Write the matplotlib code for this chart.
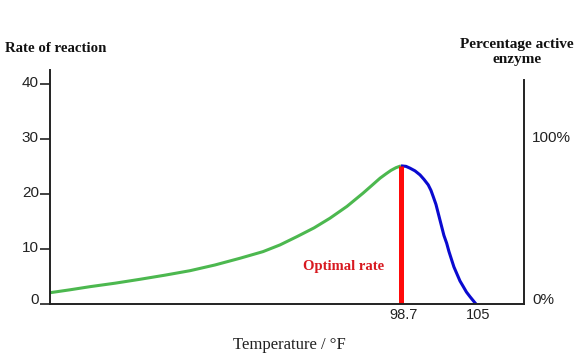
import matplotlib
matplotlib.use('Agg')
import matplotlib.pyplot as plt
from matplotlib.transforms import ScaledTranslation

# rising part of the curve (green)
temp_rise = [69.20, 70.88, 72.57, 74.67, 76.77, 78.87, 80.97, 83.07, 85.17, 87.10, 88.53,
             89.96, 91.39, 92.73, 94.16, 95.51, 96.26, 96.94, 97.44, 97.86, 98.28, 98.70]
rate_rise = [2.05, 2.58, 3.15, 3.78, 4.49, 5.24, 6.05, 7.09, 8.31, 9.51, 10.73,
             12.24, 13.82, 15.58, 17.73, 20.13, 21.55, 22.85, 23.64, 24.27, 24.76, 25.09]

# falling part of the curve (blue)
temp_fall = [98.70, 99.12, 99.46, 99.88, 100.30, 100.63, 100.99, 101.22, 101.41, 101.64, 101.83, 102.12,
             102.31, 102.54, 102.73, 102.96, 103.15, 103.38, 103.66, 103.94, 104.20, 104.50, 105.0]
rate_fall = [25.09, 25.0, 24.67, 24.18, 23.45, 22.64, 21.64, 20.64, 19.51, 18.09, 16.49, 14.05,
             12.45, 11.04, 9.55, 8.0, 6.73, 5.58, 4.18, 3.15, 2.18, 1.33, 0.0]

optimal_temp = 98.7
optimal_rate = 25.09

y_ticks = [0, 10, 20, 30, 40]
x_ticks = [98.7, 105]
x_tick_labels = ['98.7', '105']
pct_ticks = [0, 100]
pct_labels = ['0%', '100%']

serif = 'Liberation Serif'
sans = 'Liberation Sans'

fig = plt.figure(figsize=(5.82, 3.62), dpi=100)
ax = fig.add_axes([50/582, 1 - 304/362, 474/582, 234/362])

ax.plot(temp_rise, rate_rise, color='#4cb84f', lw=2.2, solid_capstyle='butt', solid_joinstyle='round')
ax.plot(temp_fall, rate_fall, color='#0a0ad0', lw=2.2, solid_capstyle='butt', solid_joinstyle='round')
ax.plot([optimal_temp, optimal_temp], [0, optimal_rate], color='#ff0a0a', lw=3.6, solid_capstyle='butt')

ax.set_xlim(69.2, 109.04)
ax.set_ylim(0, 42.5)

ax.spines['top'].set_visible(False)
ax.spines['right'].set_visible(False)
for s in ['left', 'bottom']:
    ax.spines[s].set_linewidth(1.4)
    ax.spines[s].set_color('#222222')

ax.set_yticks(y_ticks)
ax.set_yticklabels([str(v) for v in y_ticks], fontfamily=sans, fontsize=11, color='#222222')
ax.tick_params(axis='y', length=7, width=1.2, pad=1, color='#222222')
ax.yaxis.get_major_ticks()[0].tick1line.set_visible(False)
for i, lbl in enumerate(ax.get_yticklabels()):
    dy = 4 if i == 0 else 1.5
    lbl.set_transform(lbl.get_transform() + ScaledTranslation(0, dy/72, fig.dpi_scale_trans))

ax.set_xticks(x_ticks)
ax.set_xticklabels(x_tick_labels, fontfamily=sans, fontsize=10.5, color='#222222')
ax.tick_params(axis='x', length=0, pad=3)
for lbl in ax.get_xticklabels():
    lbl.set_transform(lbl.get_transform() + ScaledTranslation(1.8/72, 0, fig.dpi_scale_trans))

ax2 = ax.twinx()
ax2.set_ylim(0, 140)
for s in ['top', 'left', 'bottom']:
    ax2.spines[s].set_visible(False)
ax2.spines['right'].set_bounds(0, 134)
ax2.spines['right'].set_linewidth(1.4)
ax2.spines['right'].set_color('#222222')
ax2.set_yticks(pct_ticks)
ax2.set_yticklabels(pct_labels, fontfamily=sans, fontsize=11, color='#222222')
ax2.tick_params(axis='y', length=0, pad=6)
ax2.get_yticklabels()[0].set_transform(
    ax2.get_yticklabels()[0].get_transform() + ScaledTranslation(0, 4/72, fig.dpi_scale_trans))

fig.text(5/582, 1 - 48/362, 'Rate of reaction', fontfamily=serif, fontweight='bold',
         fontsize=10.7, ha='left', va='center', color='#111111')
fig.text(517/582, 1 - 52/362, 'Percentage active\nenzyme', fontfamily=serif, fontweight='bold',
         fontsize=11, ha='center', va='center', color='#111111', linespacing=1.2)
fig.text(289/582, 1 - 345/362, 'Temperature / °F', fontfamily=serif,
         fontsize=12, ha='center', va='center', color='#222222')
ax.text(97.3, 6.9, 'Optimal rate', fontfamily=serif, fontweight='bold', fontsize=10.5,
        ha='right', va='center', color='#d81920')

fig.savefig('out.png', dpi=100)
